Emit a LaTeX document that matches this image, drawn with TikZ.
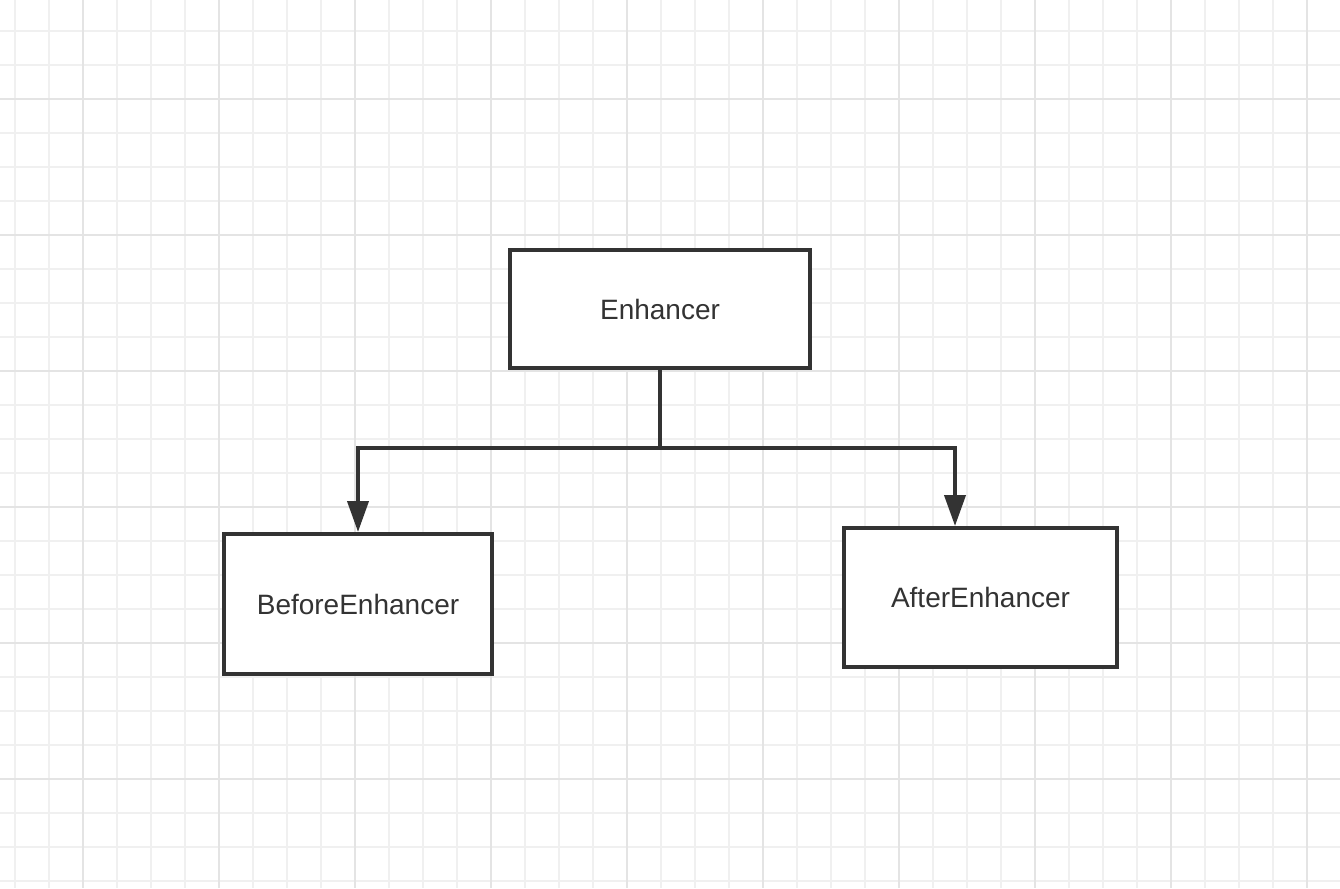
\documentclass[tikz,border=0pt]{standalone}
\usepackage{fontspec}
\setmainfont{Liberation Sans}
\usetikzlibrary{arrows.meta}
\definecolor{minorgrid}{HTML}{F0F0F0}
\definecolor{majorgrid}{HTML}{E4E4E4}
\definecolor{ink}{HTML}{333333}
\tikzset{
  box/.style={draw=ink, line width=4pt, fill=white, rectangle, text=ink,
    font=\fontsize{28pt}{32pt}\selectfont, inner sep=0pt},
  conn/.style={draw=ink, line width=4pt,
    -{Triangle[length=31pt,width=21pt]}},
}
\begin{document}
\begin{tikzpicture}[x=1pt,y=-1pt]
\useasboundingbox (0,0) rectangle (1340,888);
\fill[white] (0,0) rectangle (1340,888);
% minor grid
\foreach \i in {0,...,39} {
  \draw[minorgrid, line width=2pt] ({15+34*\i},0) -- ({15+34*\i},888);
}
\foreach \j in {1,...,26} {
  \draw[minorgrid, line width=2pt] (0,{-3+34*\j}) -- (1340,{-3+34*\j});
}
% major grid
\foreach \i in {0,...,9} {
  \draw[majorgrid, line width=2pt] ({83+136*\i},0) -- ({83+136*\i},888);
}
\foreach \j in {0,...,5} {
  \draw[majorgrid, line width=2pt] (0,{99+136*\j}) -- (1340,{99+136*\j});
}
% nodes
\node[box, minimum width=300pt, minimum height=118pt] (E) at (660,309) {Enhancer};
\node[box, minimum width=268pt, minimum height=140pt] (B) at (358,604) {BeforeEnhancer};
\node[box, minimum width=273pt, minimum height=139pt] (A) at (980.5,597.5) {AfterEnhancer};
\coordinate (J) at (660,448);
% connectors
\draw[draw=ink, line width=4pt] (E.south) -- (J);
\draw[conn] (J) -| (B.north);
\draw[conn] (J) -| ([xshift=-25.5pt]A.north);
\end{tikzpicture}
\end{document}
